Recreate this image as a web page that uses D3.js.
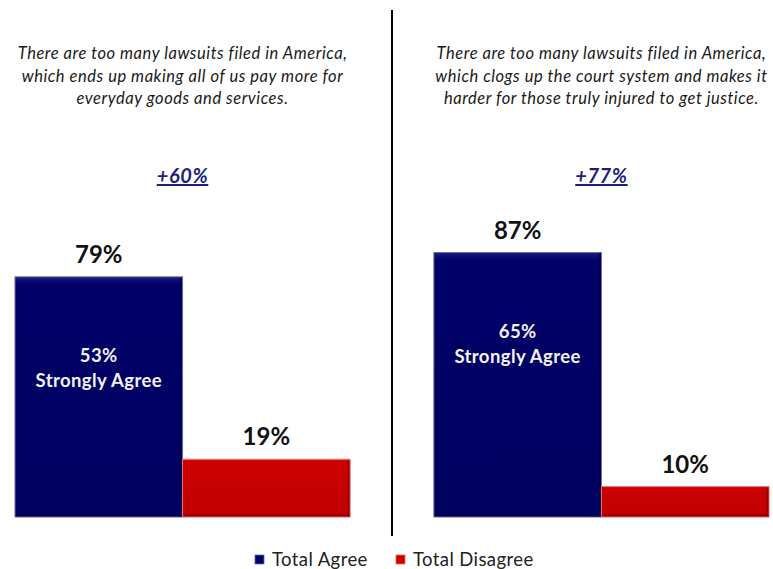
<!DOCTYPE html>
<html><head><meta charset="utf-8">
<script src="https://cdn.jsdelivr.net/npm/d3@7"></script>
<style>body{margin:0;background:#fff}svg{display:block}</style>
</head><body>
<svg id="c" width="773" height="569"></svg>
<script>
const panels = ["left", "right"];
const titles = [
  ["There are too many lawsuits filed in America,", "which ends up making all of us pay more for", "everyday goods and services."],
  ["There are too many lawsuits filed in America,", "which clogs up the court system and makes it", "harder for those truly injured to get justice."]
];
const categories = ["Total Agree", "Total Disagree"];
const agreeValues = [79, 87];
const disagreeValues = [19, 10];
const strongValues = [53, 65];
const netLabels = ["+60%", "+77%"];
const colors = ["#000066", "#cc0000"];

const svg = d3.select("#c");
const font = "Lato, 'Open Sans', sans-serif";

const defs = svg.append("defs");
const gradStops = [["#1a1a80", "#000068", "#000060"], ["#ee2a2a", "#cc0000", "#c00000"]];
gradStops.forEach((s, i) => {
  const g = defs.append("linearGradient").attr("id", "g" + i).attr("x1", 0).attr("y1", 0).attr("x2", 0).attr("y2", 1);
  g.append("stop").attr("offset", "0%").attr("stop-color", s[0]);
  g.append("stop").attr("offset", "3%").attr("stop-color", s[1]);
  g.append("stop").attr("offset", "100%").attr("stop-color", s[2]);
});

const y = d3.scaleLinear().domain([0, 100]).range([517, 213]);
const panelX = d3.scaleBand().domain(panels).range([15, 769]).paddingInner(0.2);
const bandW = panelX.bandwidth();
const x = d3.scaleBand().domain(categories).range([0, bandW]);

panels.forEach((p, i) => {
  const g = svg.append("g").attr("transform", `translate(${panelX(p)},0)`);
  const cx = bandW / 2;
  const t = g.append("text").attr("text-anchor", "middle").attr("font-family", font)
    .attr("font-style", "italic").attr("font-size", 16.5).attr("letter-spacing", 0.55).attr("fill", "#1a1a1a");
  titles[i].forEach((line, k) => t.append("tspan").attr("x", cx).attr("y", 59 + k * 22.5).text(line));

  g.append("text").attr("x", cx).attr("y", 183).attr("text-anchor", "middle").attr("font-family", font)
    .attr("font-style", "italic").attr("font-weight", "bold").attr("font-size", 20).attr("letter-spacing", 0.6)
    .attr("fill", "#1f1f7a").attr("text-decoration", "underline").text(netLabels[i]);

  const vals = [agreeValues[i], disagreeValues[i]];
  categories.forEach((c, j) => {
    const v = vals[j];
    const bx = x(c), bw = x.bandwidth(), by = y(v), bh = y(0) - y(v);
    g.append("rect").attr("x", bx).attr("y", by).attr("width", bw).attr("height", bh)
      .attr("fill", `url(#g${j})`).attr("stroke", j === 0 ? "#6a6aa8" : "#e87070").attr("stroke-width", 1);
    // bevel shading on right/bottom edges
    g.append("rect").attr("x", bx + bw - 3).attr("y", by + 1).attr("width", 2.5).attr("height", bh - 1.5)
      .attr("fill", j === 0 ? "#000045" : "#8a0000").attr("opacity", 0.6);
    g.append("rect").attr("x", bx + 1).attr("y", by + bh - 3).attr("width", bw - 1.5).attr("height", 2.5)
      .attr("fill", j === 0 ? "#000045" : "#8a0000").attr("opacity", 0.6);
    g.append("text").attr("x", bx + bw / 2).attr("y", by - 14).attr("text-anchor", "middle")
      .attr("font-family", font).attr("font-weight", "bold").attr("font-size", 24).attr("fill", "#111").text(v + "%");
  });
  const sx = x(categories[0]) + x.bandwidth() / 2;
  const sy = y(agreeValues[i]) + 85;
  const st = g.append("text").attr("text-anchor", "middle").attr("font-family", font).attr("font-weight", "bold")
    .attr("font-size", 18.5).attr("letter-spacing", 0.4).attr("fill", "#f2f2f2");
  st.append("tspan").attr("x", sx).attr("y", sy).text(strongValues[i] + "%");
  st.append("tspan").attr("x", sx).attr("y", sy + 25).text("Strongly Agree");
});

svg.append("line").attr("x1", 392).attr("x2", 392).attr("y1", 10).attr("y2", 536).attr("stroke", "#000").attr("stroke-width", 2);

const legendX = [255, 396];
categories.forEach((c, j) => {
  svg.append("rect").attr("x", legendX[j]).attr("y", 555).attr("width", 9).attr("height", 9)
    .attr("fill", colors[j]).attr("stroke", j === 0 ? "#6666aa" : "#ee6666").attr("stroke-width", 0.8);
  svg.append("text").attr("x", legendX[j] + 17).attr("y", 566).attr("font-family", font).attr("font-size", 18.5)
    .attr("letter-spacing", 0.4).attr("fill", "#222").text(c);
});
</script>
</body></html>
